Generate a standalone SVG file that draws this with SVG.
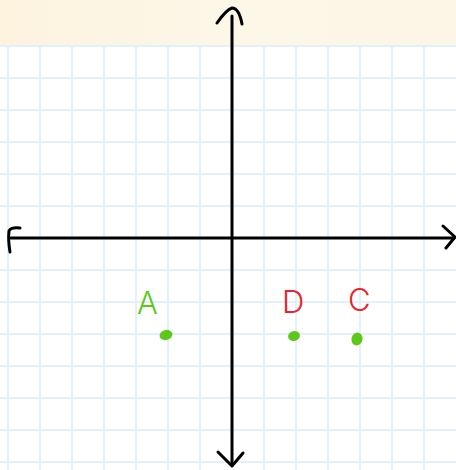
<svg xmlns="http://www.w3.org/2000/svg" width="456" height="470" viewBox="0 0 456 470">
<style>
.grid path{stroke:#e0f0fc;stroke-width:2;fill:none}
.ax{fill:none;stroke:#000;stroke-width:3;stroke-linecap:round;stroke-linejoin:round}
.lbl{font-family:Inter,"Open Sans","Liberation Sans",sans-serif;font-weight:300;font-size:31px}
.g{fill:#5cc81a}
.r{fill:#e8262a}
</style>
<defs>
<linearGradient id="cream" x1="0" y1="0" x2="1" y2="0">
<stop offset="0" stop-color="#fdf3df"/>
<stop offset="0.5" stop-color="#fdf7e8"/>
<stop offset="1" stop-color="#fdf6e6"/>
</linearGradient>
</defs>
<rect width="456" height="470" fill="#fff"/>
<rect width="456" height="45" fill="url(#cream)"/>
<g class="grid">
<path d="M8 45V470M40 45V470M72 45V470M104 45V470M136 45V470M168 45V470M200 45V470M264 45V470M296 45V470M328 45V470M360 45V470M392 45V470M424 45V470"/>
<path d="M0 46H456M0 78H456M0 110H456M0 142H456M0 174H456M0 206H456M0 270H456M0 302H456M0 334H456M0 366H456M0 398H456M0 430H456M0 462H456"/>
</g>
<g id="axes">
<path class="ax" d="M232 16V464"/>
<path class="ax" d="M217 23Q226 10 232 8Q239 8 242 24"/>
<path class="ax" d="M218 452L232 466L243 453"/>
<path class="ax" d="M11 238H454"/>
<path class="ax" d="M10 252Q8 240 9 231Q11 227 20 228"/>
<path class="ax" d="M443 226L455 237L446 248"/>
</g>
<g id="A">
<text class="lbl g" x="137" y="314">A</text>
<ellipse class="g" cx="166" cy="335" rx="6.5" ry="5" transform="rotate(-15 166 335)"/>
</g>
<g id="D">
<text class="lbl r" x="282" y="313">D</text>
<ellipse class="g" cx="294" cy="336" rx="6" ry="5" transform="rotate(-15 294 336)"/>
</g>
<g id="C">
<text class="lbl r" x="348" y="311">C</text>
<ellipse class="g" cx="357" cy="339" rx="5.5" ry="6.5" transform="rotate(20 357 339)"/>
</g>
</svg>
